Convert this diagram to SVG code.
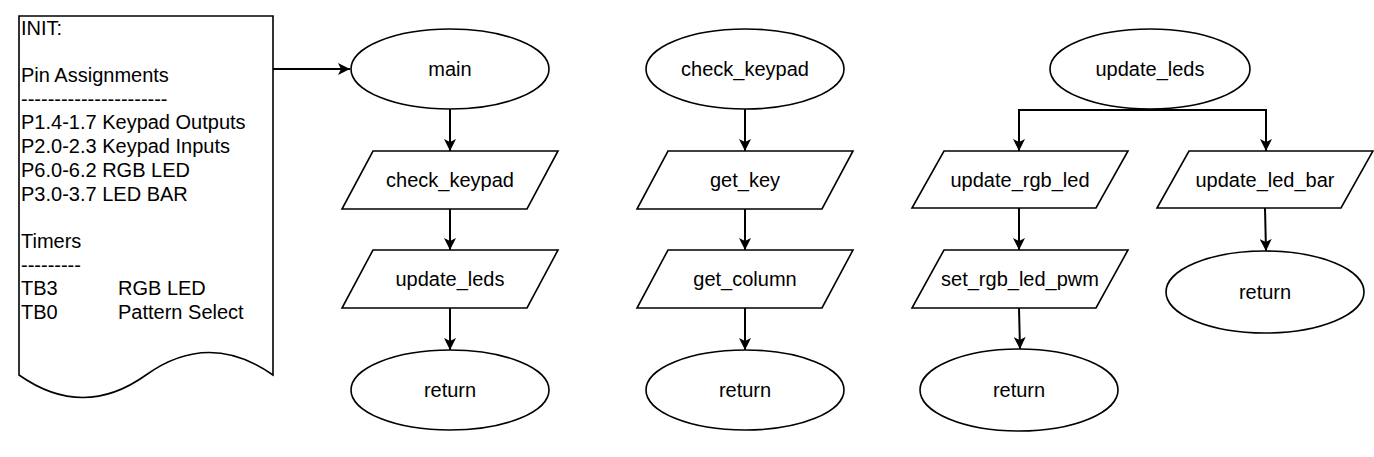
<svg xmlns="http://www.w3.org/2000/svg" width="1374" height="457" viewBox="0 0 1374 457">
<style>
.s{fill:#fff;stroke:#000;stroke-width:1.6}
.t{font-family:"Liberation Sans",Arial,sans-serif;font-size:20px;fill:#000;text-anchor:middle}
.d{font-family:"Liberation Sans",Arial,sans-serif;font-size:20px;fill:#000}
.c{fill:none;stroke:#000;stroke-width:2}
</style>
<defs>
<marker id="a" markerUnits="userSpaceOnUse" markerWidth="14" markerHeight="12" refX="12" refY="6" orient="auto">
<path d="M0,0 L12,6 L0,12 L3,6 Z" fill="#000"/>
</marker>
</defs>
<g id="init">
<path class="s" d="M19,16 H273 V375 Q209,330 146,375 Q83,420 19,375 Z"/>
<text class="d" x="21" y="35">INIT:</text>
<text class="d" x="21" y="82">Pin Assignments</text>
<text class="d" x="21" y="106">----------------------</text>
<text class="d" x="21" y="129">P1.4-1.7 Keypad Outputs</text>
<text class="d" x="21" y="153">P2.0-2.3 Keypad Inputs</text>
<text class="d" x="21" y="177">P6.0-6.2 RGB LED</text>
<text class="d" x="21" y="201">P3.0-3.7 LED BAR</text>
<text class="d" x="21" y="248">Timers</text>
<text class="d" x="21" y="272">---------</text>
<text class="d" x="21" y="295">TB3</text>
<text class="d" x="118" y="295">RGB LED</text>
<text class="d" x="21" y="319">TB0</text>
<text class="d" x="118" y="319">Pattern Select</text>
</g>
<g id="main">
<ellipse class="s" cx="450" cy="69" rx="99" ry="40"/>
<text class="t" x="450" y="76">main</text>
</g>
<g id="c1_check_keypad">
<path class="s" d="M373,151 H558 L527,209 H342 Z"/>
<text class="t" x="450" y="187">check_keypad</text>
</g>
<g id="c1_update_leds">
<path class="s" d="M373,250 H558 L527,308 H342 Z"/>
<text class="t" x="450" y="286">update_leds</text>
</g>
<g id="c1_return">
<ellipse class="s" cx="450" cy="390" rx="99" ry="40"/>
<text class="t" x="450" y="397">return</text>
</g>
<g id="check_keypad">
<ellipse class="s" cx="745" cy="69" rx="99" ry="40"/>
<text class="t" x="745" y="76">check_keypad</text>
</g>
<g id="get_key">
<path class="s" d="M668,151 H853 L822,209 H637 Z"/>
<text class="t" x="745" y="187">get_key</text>
</g>
<g id="get_column">
<path class="s" d="M668,250 H853 L822,308 H637 Z"/>
<text class="t" x="745" y="286">get_column</text>
</g>
<g id="c2_return">
<ellipse class="s" cx="745" cy="390" rx="99" ry="40"/>
<text class="t" x="745" y="397">return</text>
</g>
<g id="update_leds">
<ellipse class="s" cx="1150" cy="69" rx="100" ry="40"/>
<text class="t" x="1150" y="76">update_leds</text>
</g>
<g id="update_rgb_led">
<path class="s" d="M944,151 H1128 L1096,208 H912 Z"/>
<text class="t" x="1020" y="187">update_rgb_led</text>
</g>
<g id="set_rgb_led_pwm">
<path class="s" d="M944,250 H1128 L1096,308 H912 Z"/>
<text class="t" x="1020" y="286">set_rgb_led_pwm</text>
</g>
<g id="c3_return">
<ellipse class="s" cx="1019" cy="390" rx="99" ry="41"/>
<text class="t" x="1019" y="397">return</text>
</g>
<g id="update_led_bar">
<path class="s" d="M1189,151 H1373 L1341,208 H1157 Z"/>
<text class="t" x="1265" y="187">update_led_bar</text>
</g>
<g id="c4_return">
<ellipse class="s" cx="1265" cy="292" rx="99" ry="41"/>
<text class="t" x="1265" y="299">return</text>
</g>
<g id="connectors">
<path class="c" d="M273,69 H350" marker-end="url(#a)"/>
<path class="c" d="M450,109 V151" marker-end="url(#a)"/>
<path class="c" d="M450,209 V250" marker-end="url(#a)"/>
<path class="c" d="M450,308 V350" marker-end="url(#a)"/>
<path class="c" d="M745,109 V151" marker-end="url(#a)"/>
<path class="c" d="M745,209 V250" marker-end="url(#a)"/>
<path class="c" d="M745,308 V350" marker-end="url(#a)"/>
<path class="c" d="M1150,110 H1019 V151" marker-end="url(#a)"/>
<path class="c" d="M1150,110 H1266 V151" marker-end="url(#a)"/>
<path class="c" d="M1019,208 V250" marker-end="url(#a)"/>
<path class="c" d="M1019,308 L1020,349" marker-end="url(#a)"/>
<path class="c" d="M1265,208 L1266,251" marker-end="url(#a)"/>
</g>
</svg>
